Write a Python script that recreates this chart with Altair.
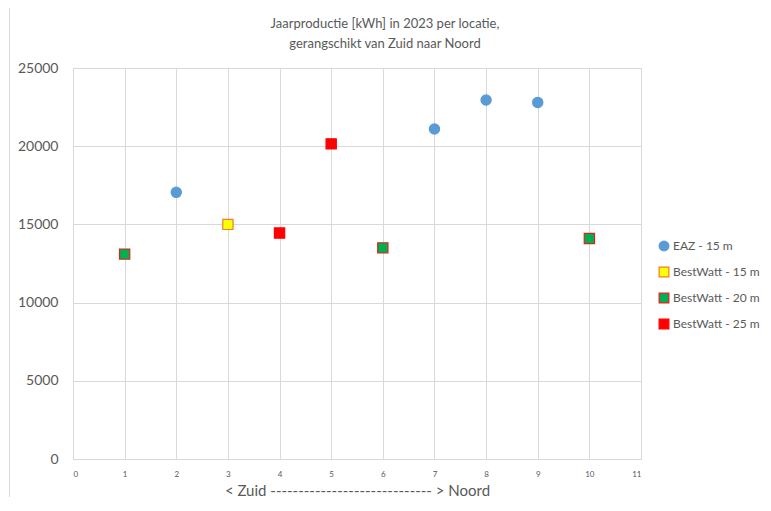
import altair as alt
import pandas as pd

series_names = ["EAZ - 15 m", "BestWatt - 15 m", "BestWatt - 20 m", "BestWatt - 25 m"]

eaz_x = [2, 7, 8, 9]
eaz_y = [17050, 21100, 22950, 22800]
bw15_x = [3]
bw15_y = [15000]
bw20_x = [1, 6, 10]
bw20_y = [13100, 13500, 14100]
bw25_x = [4, 5]
bw25_y = [14450, 20150]

title_lines = ["Jaarproductie [kWh] in 2023 per locatie,", "gerangschikt van Zuid naar Noord"]

rows = []
for name, xs, ys in [(series_names[0], eaz_x, eaz_y), (series_names[1], bw15_x, bw15_y),
                     (series_names[2], bw20_x, bw20_y), (series_names[3], bw25_x, bw25_y)]:
    for x, y in zip(xs, ys):
        rows.append({"locatie": x, "kWh": y, "serie": name})
df = pd.DataFrame(rows)

fills = ["#5B9BD5", "#FFFF00", "#00B050", "#FF0000"]
strokes = ["#5B9BD5", "#ED7D31", "#E02020", "#FF0000"]
shapes = ["circle", "square", "square", "square"]

FONT = "Lato"
GRAY = "#595959"
GRID = "#D9D9D9"

points = alt.Chart(df).mark_point(filled=True, size=105, strokeWidth=1.2, opacity=1).encode(
    x=alt.X("locatie:Q",
            scale=alt.Scale(domain=[0, 11], nice=False),
            axis=alt.Axis(values=list(range(0, 12)), title="< Zuid    ----------------------------- > Noord",
                          titleFontSize=15, titleColor=GRAY, titleFont=FONT, titleFontWeight="normal",
                          titlePadding=5,
                          labelFontSize=8, labelColor=GRAY, labelFont=FONT, labelPadding=11,
                          ticks=False, domain=False, gridColor=GRID)),
    y=alt.Y("kWh:Q",
            scale=alt.Scale(domain=[0, 25000], nice=False),
            axis=alt.Axis(values=[0, 5000, 10000, 15000, 20000, 25000], title=None, format="d",
                          labelFontSize=14, labelColor=GRAY, labelFont=FONT, labelPadding=15,
                          ticks=False, domain=False, gridColor=GRID)),
    fill=alt.Fill("serie:N", scale=alt.Scale(domain=series_names, range=fills), title=None),
    stroke=alt.Stroke("serie:N", scale=alt.Scale(domain=series_names, range=strokes), title=None),
    shape=alt.Shape("serie:N", scale=alt.Scale(domain=series_names, range=shapes), title=None),
)

border = alt.Chart(pd.DataFrame({"a": [0]})).mark_rect(fill=None, stroke=GRID, strokeWidth=1).encode(
    x=alt.value(-63.5), x2=alt.value(900), y=alt.value(-60.5), y2=alt.value(900)
)

title_df = pd.DataFrame({"t": ["\n".join(title_lines)]})
title = alt.Chart(title_df).mark_text(
    font=FONT, fontSize=13, color=GRAY, lineBreak="\n", lineHeight=20, align="center", baseline="middle"
).encode(text="t:N", x=alt.value(312), y=alt.value(-44))

chart = alt.layer(border, points, title).properties(
    width=568,
    height=391,
    padding={"left": 65, "top": 60, "right": 121, "bottom": 38},
    autosize=alt.AutoSizeParams(type="none"),
).configure_view(stroke=GRID).configure_legend(
    orient="none", legendX=585, legendY=172,
    labelFontSize=12, labelColor=GRAY, labelFont=FONT, rowPadding=10, symbolSize=95,
    labelLimit=300, symbolStrokeWidth=1.2, labelOffset=3,
)

chart.save("out.html", embed_options={"renderer": "svg", "actions": False})
